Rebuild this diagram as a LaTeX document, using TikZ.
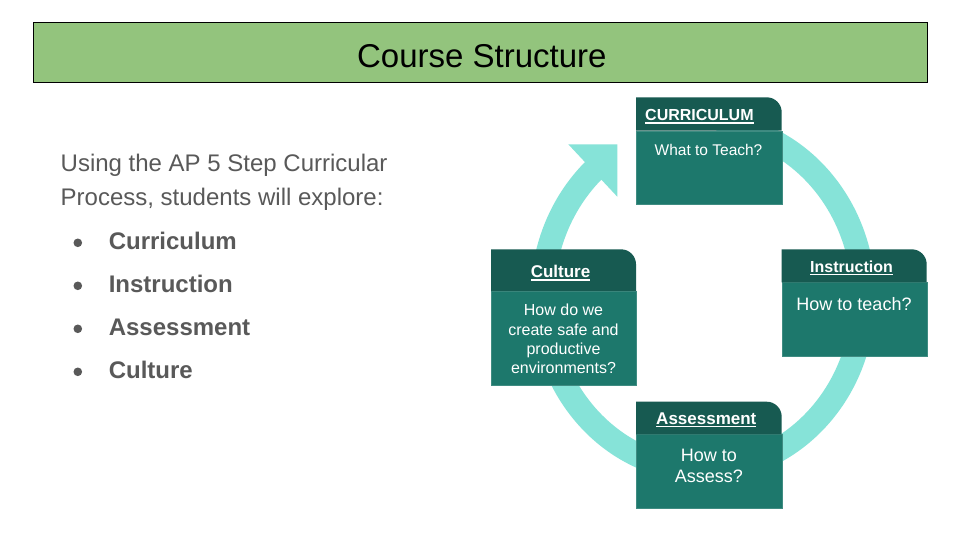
\documentclass[tikz,border=0pt]{standalone}
\usepackage{fontspec}
\setmainfont{Liberation Sans}
\definecolor{ringc}{HTML}{86E3D8}
\definecolor{hdr}{HTML}{175A51}
\definecolor{bdy}{HTML}{1D786C}
\definecolor{titlegreen}{HTML}{93C47D}
\definecolor{txtgray}{HTML}{595959}
\newcommand\myul[1]{\setbox0\hbox{#1}\rlap{\rule[-2.8pt]{\wd0}{1.3pt}}\box0}
\newcommand\hdrshape[4]{\fill[hdr] (#1,-#4) -- (#1,-#2) -- ({#3-15},-#2) arc[start angle=90,end angle=0,radius=15pt] -- (#3,-#4) -- cycle;}
\begin{document}
\begin{tikzpicture}[x=1pt,y=1pt,
  bodybox/.style={fill=bdy, draw=bdy!85!white, line width=0.7pt, anchor=north west, inner sep=0pt},
  hdrtext/.style={text=white, font=\bfseries\fontsize{16}{19}\selectfont, inner sep=0pt},
  bodytext/.style={text=white, inner sep=0pt, align=center},
  introtext/.style={text=txtgray, font=\fontsize{24}{33}\selectfont, inner sep=0pt, anchor=base west},
  bullettext/.style={text=txtgray, font=\bfseries\fontsize{24}{28}\selectfont, inner sep=0pt, anchor=base west},
  bulletdot/.style={circle, fill=txtgray, minimum size=8.6pt, inner sep=0pt}]
\useasboundingbox (0,0) rectangle (960,-540);
\fill[white] (0,0) rectangle (960,-540);

% title
\node[draw=black, line width=1pt, fill=titlegreen, minimum width=894pt, minimum height=60.5pt, inner sep=0pt, anchor=north west] (titlebox) at (33,-22) {};
\node[anchor=base, inner sep=0pt, font=\fontsize{33}{40}\selectfont] (titletext) at (481.8,-67.7) {Course Structure};

% left text
\node[introtext] (intro1) at (60.5,-171.7) {Using the AP 5 Step Curricular};
\node[introtext] (intro2) at (60.5,-205) {Process, students will explore:};
\node[bulletdot] (b1) at (77.8,-242.8) {};
\node[bulletdot] (b2) at (77.8,-285.8) {};
\node[bulletdot] (b3) at (77.8,-328.8) {};
\node[bulletdot] (b4) at (77.8,-371.8) {};
\node[bullettext] (t1) at (108.6,-249.7) {Curriculum};
\node[bullettext] (t2) at (108.6,-292.7) {Instruction};
\node[bullettext] (t3) at (108.6,-335.7) {Assessment};
\node[bullettext] (t4) at (108.6,-378.7) {Culture};

% ring with arrow
\coordinate (ringc) at (703,-297);
\draw[ringc, line width=24pt] (ringc) ++(85:160.5pt and 173pt) arc[start angle=85, end angle=-229, x radius=160.5pt, y radius=173pt];
\fill[ringc] (568.3,-144.3) -- (617.3,-144.3) -- (617.3,-196.7) -- cycle;

% Curriculum box
\node[bodybox, minimum width=145.7pt, minimum height=73.6pt] (curbody) at (636,-130.7) {};
\hdrshape{636}{97.3}{781.7}{130.7}
\node[hdrtext, anchor=base west] (curhead) at (645,-121) {\myul{CURRICULUM}};
\node[bodytext, anchor=base, font=\fontsize{15.5}{19}\selectfont] (curtext) at (708.5,-156) {What to Teach?};

% Instruction box
\node[bodybox, minimum width=145pt, minimum height=73.4pt] (insbody) at (781.7,-282.3) {};
\hdrshape{781.7}{249.3}{926.7}{282.3}
\node[hdrtext, anchor=base] (inshead) at (851.5,-272.5) {\myul{Instruction}};
\node[bodytext, anchor=base, font=\fontsize{18}{21.6}\selectfont] (instext) at (854,-310) {How to teach?};

% Culture box
\node[bodybox, minimum width=145pt, minimum height=94pt] (culbody) at (491,-291) {};
\hdrshape{491}{249.3}{636}{291}
\node[hdrtext, anchor=base, font=\bfseries\fontsize{17}{20}\selectfont] (culhead) at (560.5,-277.7) {\myul{Culture}};
\node[bodytext, font=\fontsize{16}{19.1}\selectfont] (cultext) at (563.5,-338.9) {How do we\\create safe and\\productive\\environments?};

% Assessment box
\node[bodybox, minimum width=145.7pt, minimum height=73.4pt] (assbody) at (636,-434.3) {};
\hdrshape{636}{401.7}{781.7}{434.3}
\node[hdrtext, anchor=base, font=\bfseries\fontsize{17}{20}\selectfont] (asshead) at (706.3,-424.3) {\myul{Assessment}};
\node[bodytext, font=\fontsize{18}{21.6}\selectfont] (asstext) at (708.8,-466) {How to\\Assess?};
\end{tikzpicture}
\end{document}
